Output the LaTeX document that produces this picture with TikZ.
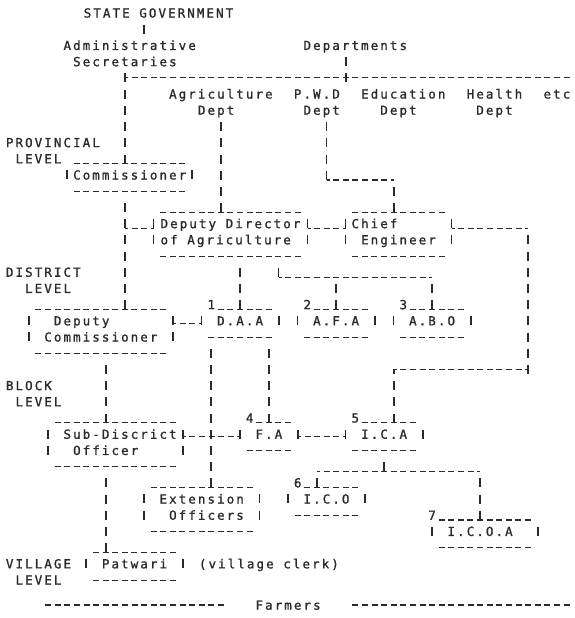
\documentclass[tikz,border=0pt]{standalone}
\usepackage{fontspec}
\usetikzlibrary{calc}
\newfontfamily\typefont[LetterSpace=16.6,FakeBold=1.2]{DejaVu Sans Mono}
\definecolor{Ink}{HTML}{2A2A2A}
\newcommand{\blankcol}{\hspace*{9.6pt}}
\newcommand{\typedrows}[1]{\begin{tabular}[t]{@{}l@{}}#1\end{tabular}}
\newcommand{\boxedges}[1]{%
  \draw[hl,ph=7.8] ($(#1.north west)+(0.5,0)$) -- ($(#1.north east)+(-0.5,0)$);
  \draw[hl,ph=7.8] ($(#1.south west)+(0.5,0)$) -- ($(#1.south east)+(-0.5,0)$);
  \draw[vl,ph=9.52] (#1.north west) -- ($(#1.south west)+(0,-0.5)$);
  \draw[vl,ph=9.52] (#1.north east) -- ($(#1.south east)+(0,-0.5)$);}

\begin{document}
\begin{tikzpicture}[x=9.6pt,y=-16.2pt,Ink,
  font=\typefont\fontsize{12.5pt}{16.2pt}\selectfont,
  txt/.style={inner sep=0pt,text height=12.65pt,text depth=3.55pt,anchor=base,yshift=-4.55pt},
  txt2/.style={txt,text depth=19.75pt},
  tbox/.style={inner sep=0pt,text height=15.73pt,text depth=11.65pt,anchor=base,yshift=-4.55pt,minimum width=#1*9.6pt},
  tbox2/.style={tbox=#1,text depth=27.85pt},
  num/.style={txt,fill=white,inner xsep=1pt},
  hl/.style={line width=1.3pt,dash pattern=on 6pt off 3.6pt},
  vl/.style={line width=1.7pt,dash pattern=on 9pt off 7.2pt},
  ph/.style={dash phase=#1pt},
  frombox/.style={shorten <=4.5pt,dash phase=9.04pt}]
\useasboundingbox (-1.0104,-0.8025) rectangle (58.7813,37.3457);

\node[txt] (sg) at (15.5,0) {STATE GOVERNMENT};
\node[txt2] (as) at (12.5,2) {\typedrows{Administrative\\\blankcol Secretaries}};
\node[txt] (dep) at (36,2) {Departments};
\node[txt2] (agr) at (22,5) {\typedrows{Agriculture\\\blankcol\blankcol\blankcol Dept}};
\node[txt2] (pwd) at (32,5) {\typedrows{P.W.D\\\blankcol Dept}};
\node[txt2] (edu) at (41,5) {\typedrows{Education\\\blankcol\blankcol Dept}};
\node[txt2] (hea) at (50.5,5) {\typedrows{Health\\\blankcol Dept}};
\node[txt] (etc) at (57,5) {etc};

\node[txt2] (prov) at (4.5,8) {\typedrows{PROVINCIAL\\\blankcol LEVEL}};
\node[txt2] (dist) at (3.5,16) {\typedrows{DISTRICT\\\blankcol\blankcol LEVEL}};
\node[txt2] (blk) at (2.5,23) {\typedrows{BLOCK\\\blankcol LEVEL}};
\node[txt2] (vil) at (3,34) {\typedrows{VILLAGE\\\blankcol LEVEL}};

\node[tbox=13] (comm) at (12.5,10) {Commissioner};
\node[tbox2=16] (dda) at (23,13) {\typedrows{Deputy Director\\of Agriculture}};
\node[tbox2=11] (ce) at (40.5,13) {\typedrows{Chief\\\blankcol Engineer\blankcol}};
\node[tbox2=15] (dc) at (9.5,19) {\typedrows{\blankcol Deputy\\Commissioner}};
\node[tbox=8] (daa) at (24,19) {D.A.A};
\node[tbox=8] (afa) at (34,19) {A.F.A};
\node[tbox=8] (abo) at (44,19) {A.B.O};
\node[tbox2=14] (sdo) at (11,26) {\typedrows{\blankcol Sub-Discrict\\\blankcol\blankcol Officer}};
\node[tbox=6] (fa) at (27,26) {F.A};
\node[tbox=8] (ica) at (39,26) {I.C.A};
\node[tbox2=12] (ext) at (20,30) {\typedrows{Extension\\\blankcol Officers}};
\node[tbox=8] (ico) at (33,30) {I.C.O};
\node[tbox=11] (icoa) at (49.5,32) {\blankcol I.C.O.A\blankcol\blankcol};
\node[tbox=10] (pat) at (13,34) {Patwari};
\node[txt] (clerk) at (27,34) {(village clerk)};
\node[txt] (farm) at (29,36.55) {Farmers};

\foreach \b in {comm,dda,ce,dc,daa,afa,abo,sdo,fa,ica,ext,ico,icoa,pat} {\boxedges{\b}}

\node[num] (n1) at (21,18) {1};
\node[num] (n2) at (31,18) {2};
\node[num] (n3) at (41,18) {3};
\node[num] (n4) at (25,25) {4};
\node[num] (n5) at (36,25) {5};
\node[num] (n6) at (30,29) {6};
\node[num] (n7) at (44,31) {7};

\coordinate (deptbus) at (35,4);
\coordinate (pwdturn) at (33,10.31);
\coordinate (commstem) at (12,13.31);
\coordinate (loopne) at (54,13.31);
\coordinate (loopse) at (54,22);
\coordinate (ddabus) at (28,16.31);
\coordinate (icabus) at (39,28.31);

\draw[vl,ph=12.6] (sg.south -| 14,0) -- (as.north -| 14,0);
\draw[vl,ph=12.6] (as.south -| 12,0) -- (comm.north -| 12,0);
\draw[vl,ph=12.6] (dep.south -| deptbus) -- ($(deptbus)+(0,0.28)$);
\draw[hl,ph=3] (deptbus -| 12,0) -- (deptbus -| 58.5,0);
\draw[vl,ph=12.6] (agr.south -| 22,0) -- (dda.north -| 22,0);
\draw[vl,ph=12.6] (pwd.south -| pwdturn) -- (pwdturn);
\draw[hl,ph=3] (pwdturn) -- (pwdturn -| 40,0);
\draw[vl,ph=9.52] (pwdturn -| 40,0) -- (ce.north -| 40,0);

\draw[vl,frombox] (comm.south -| 12,0) -- (dc.north -| 12,0);
\draw[hl,ph=3] (commstem) -- (dda.west |- commstem);
\draw[hl,ph=3] (dda.east |- commstem) -- (ce.west |- commstem);
\draw[hl,ph=3] (ce.east |- loopne) -- (loopne);
\draw[vl,ph=9.52] (loopne) -- ($(loopse)+(0,0.28)$);
\draw[hl,ph=3] (loopse -| 40,0) -- (loopse);
\draw[vl,ph=4.5] (loopse -| 40,0) -- (ica.north -| 40,0);

\draw[vl,frombox] (dda.south -| 24,0) -- (daa.north -| 24,0);
\draw[vl,frombox] (dda.south -| ddabus) -- (ddabus);
\draw[hl,ph=3] (ddabus) -- (ddabus -| abo.north);
\draw[vl,ph=9.52] (ddabus -| afa.north) -- (afa.north);
\draw[vl,ph=9.52] (ddabus -| abo.north) -- (abo.north);
\draw[hl,ph=3] (dc.east |- daa.mid west) -- (daa.mid west);

\draw[vl,frombox] (dc.south -| 10,0) -- (sdo.north -| 10,0);
\draw[vl,frombox] (daa.south -| 21,0) -- (ext.north -| 21,0);
\draw[vl,frombox] (daa.south -| fa.north) -- (fa.north);
\draw[hl,ph=3] (sdo.east |- fa.mid west) -- (fa.mid west);
\draw[hl,ph=3] (fa.mid east) -- (ica.mid west);
\draw[vl,frombox] (sdo.south -| 10,0) -- (pat.north -| 10,0);
\draw[vl,frombox] (ica.south -| icabus) -- (icabus);
\draw[hl,ph=3] (icabus -| 32,0) -- (icabus -| 49,0);
\draw[vl,ph=9.52] (icabus -| 32,0) -- (ico.north -| 32,0);
\draw[vl,ph=9.52] (icabus -| 49,0) -- (icoa.north -| 49,0);

\draw[hl,ph=7.8] (farm.west -| 3.5,0) -- (farm.west -| 22.5,0);
\draw[hl,ph=7.8] (farm.east -| 35.5,0) -- (farm.east -| 58.5,0);
\end{tikzpicture}
\end{document}
